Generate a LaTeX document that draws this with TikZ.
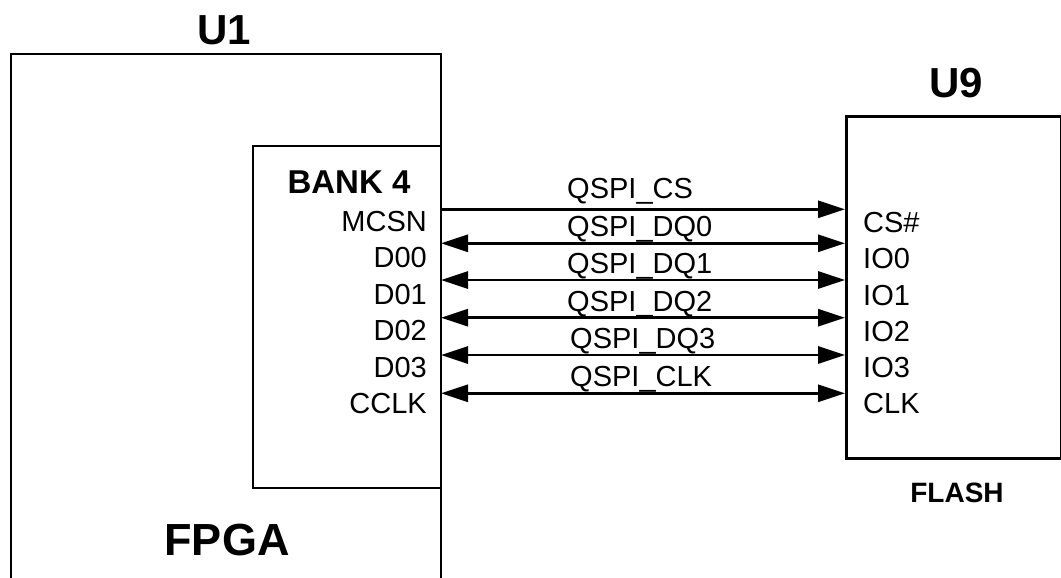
\documentclass[tikz,border=0pt]{standalone}
\usepackage{fontspec}
\setmainfont{Liberation Sans}
\usetikzlibrary{arrows.meta}
\begin{document}
\begin{tikzpicture}[x=1pt,y=-1pt,
  box/.style={line width=2.9pt},
  pinl/.style={font=\fontsize{29}{30}\selectfont, anchor=base east, inner sep=0pt},
  pinr/.style={font=\fontsize{29}{30}\selectfont, anchor=base west, inner sep=0pt},
  netlbl/.style={font=\fontsize{29}{30}\selectfont, anchor=base west, inner sep=0pt},
  ttl/.style={font=\bfseries\fontsize{42}{44}\selectfont, anchor=base, inner sep=0pt},
  tip/.tip={Triangle[length=27pt,width=17pt]},
  sig/.style={line width=2.9pt, -tip},
  bidir/.style={line width=2.9pt, tip-tip}]
\useasboundingbox (0,0) rectangle (1061,578);
% FPGA outline (open at bottom)
\draw[box] (11,582) -- (11,54) -- (441,54) -- (441,582);
% Bank box
\draw[box] (441,146) -- (253,146) -- (253,488) -- (441,488);
\node[ttl] (u1) at (224,45) {U1};
\node[ttl, font=\bfseries\fontsize{45}{47}\selectfont] (fpga) at (227,555) {FPGA};
\node[ttl, font=\bfseries\fontsize{33}{35}\selectfont] (bank) at (349,193) {BANK 4};
% FLASH
\node[draw, box, minimum width=215pt, minimum height=342pt, anchor=north west, inner sep=0pt] (u9) at (845,115) {};
\node[ttl] (u9l) at (956,98) {U9};
\node[ttl, font=\bfseries\fontsize{28}{30}\selectfont] (flash) at (957,502) {FLASH};
% FPGA pins
\node[pinl] (l1) at (427,231) {MCSN};
\node[pinl] (l2) at (427,267.5) {D00};
\node[pinl] (l3) at (427,304) {D01};
\node[pinl] (l4) at (427,340.5) {D02};
\node[pinl] (l5) at (427,377) {D03};
\node[pinl] (l6) at (427,413.5) {CCLK};
% Flash pins
\node[pinr] (r1) at (863,232) {CS\#};
\node[pinr] (r2) at (863,268) {IO0};
\node[pinr] (r3) at (863,305) {IO1};
\node[pinr] (r4) at (863,341.5) {IO2};
\node[pinr] (r5) at (863,377.5) {IO3};
\node[pinr] (r6) at (863,413.5) {CLK};
% pin points on FPGA edge
\coordinate (p1) at (441,209.3);
\coordinate (p2) at (441,243.3);
\coordinate (p3) at (441,280);
\coordinate (p4) at (441,317.7);
\coordinate (p5) at (441,355);
\coordinate (p6) at (441,393.3);
\draw[sig] (p1) -- (p1 -| u9.west);
\draw[bidir] (p2) -- (p2 -| u9.west);
\draw[bidir] (p3) -- (p3 -| u9.west);
\draw[bidir] (p4) -- (p4 -| u9.west);
\draw[bidir] (p5) -- (p5 -| u9.west);
\draw[bidir] (p6) -- (p6 -| u9.west);
% net labels
\node[netlbl] (n1) at (567,198) {QSPI\_CS};
\node[netlbl] (n2) at (567,236) {QSPI\_DQ0};
\node[netlbl] (n3) at (567,273) {QSPI\_DQ1};
\node[netlbl] (n4) at (567,311) {QSPI\_DQ2};
\node[netlbl] (n5) at (570,348) {QSPI\_DQ3};
\node[netlbl] (n6) at (570,386) {QSPI\_CLK};
\end{tikzpicture}
\end{document}
